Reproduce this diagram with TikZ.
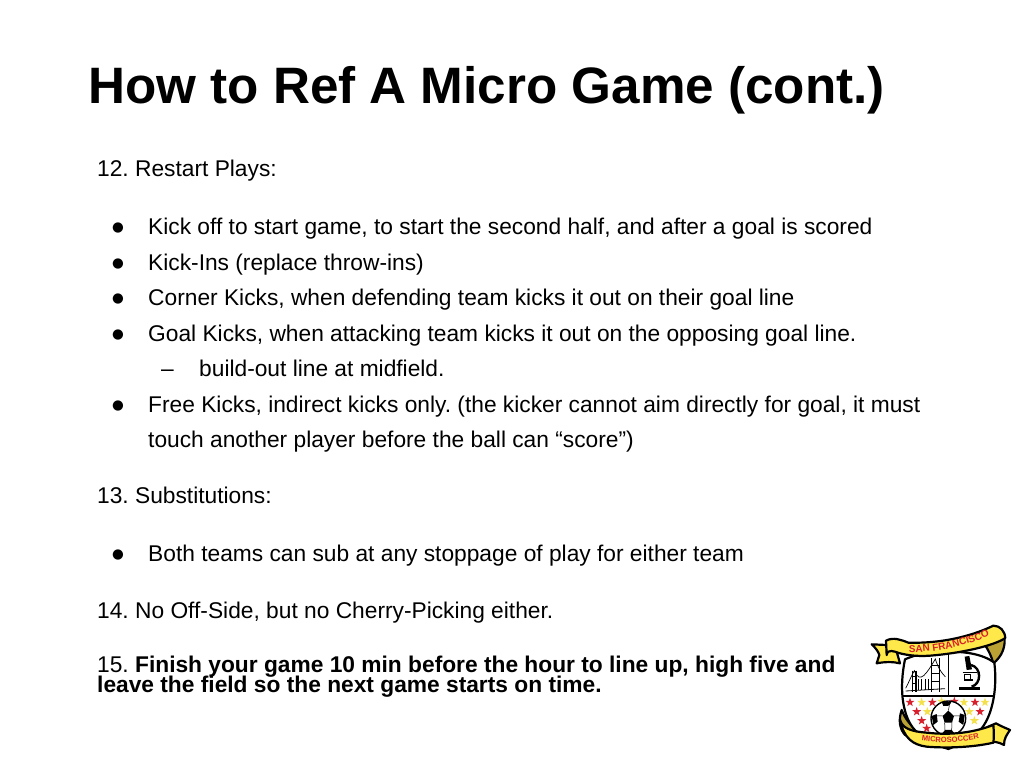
\documentclass[tikz,border=0pt]{standalone}
\usepackage{fontspec}
\setmainfont{Liberation Sans}
\newfontfamily\symfont{DejaVu Sans}
\usetikzlibrary{decorations.text}
\tikzset{
  titletext/.style={anchor=base west,inner sep=0pt,font=\fontsize{51.2}{51.2}\selectfont\bfseries},
  bodytext/.style={anchor=base west,inner sep=0pt,font=\fontsize{22.75}{22.75}\selectfont},
  bulletmark/.style={anchor=base,inner sep=0pt,font=\fontsize{13.5}{13.5}\selectfont\symfont},
  logoline/.style={draw=black,line width=2.2pt,line join=round},
  bannerfill/.style={logoline,fill=bannergold},
  bannerfold/.style={logoline,fill=foldgold},
}
\definecolor{bannergold}{HTML}{FFE84A}
\definecolor{foldgold}{HTML}{B9A233}
\definecolor{starred}{HTML}{D8202C}
\definecolor{staryellow}{HTML}{F3E04A}
\newcommand{\logostar}[3]{\fill[#3] (#1,#2) +(-90:14) -- +(-54:5.6) -- +(-18:14) -- +(18:5.6) -- +(54:14) -- +(90:5.6) -- +(126:14) -- +(162:5.6) -- +(198:14) -- +(234:5.6) -- cycle;}
\frenchspacing
\begin{document}
\begin{tikzpicture}[x=1pt,y=-1pt]
\useasboundingbox (0,0) rectangle (1024,768);
\fill[white] (0,0) rectangle (1024,768);
\node[titletext] (title) at (88,103) {How to Ref A Micro Game (cont.)};
\node[bodytext] (t12) at (97,176) {12. Restart Plays:};
\node[bulletmark] (b1) at (118,231.5) {●};
\node[bodytext] (l1) at (148,234) {Kick off to start game, to start the second half, and after a goal is scored};
\node[bulletmark] (b2) at (118,267) {●};
\node[bodytext] (l2) at (148,270) {Kick-Ins (replace throw-ins)};
\node[bulletmark] (b3) at (118,302.5) {●};
\node[bodytext] (l3) at (148,305) {Corner Kicks, when defending team kicks it out on their goal line};
\node[bulletmark] (b4) at (118,338) {●};
\node[bodytext] (l4) at (148,341) {Goal Kicks, when attacking team kicks it out on the opposing goal line.};
\node[bodytext] (d1) at (161,376) {–};
\node[bodytext] (l5) at (199,376) {build-out line at midfield.};
\node[bulletmark] (b5) at (118,409) {●};
\node[bodytext] (l6) at (148,412) {Free Kicks, indirect kicks only. (the kicker cannot aim directly for goal, it must};
\node[bodytext] (l7) at (148,447) {touch another player before the ball can “score”)};
\node[bodytext] (t13) at (97,503) {13. Substitutions:};
\node[bulletmark] (b6) at (118,558) {●};
\node[bodytext] (l8) at (148,561) {Both teams can sub at any stoppage of play for either team};
\node[bodytext] (t14) at (97,618) {14. No Off-Side, but no Cherry-Picking either.};
\node[bodytext] (t15) at (97,672) {15. \textbf{Finish your game 10 min before the hour to line up, high five and}};
\node[bodytext] (t15b) at (97,692) {\textbf{leave the field so the next game starts on time.}};
% logo, in zoom coordinates
\begin{scope}[shift={(860,610)},x=0.3333pt,y=-0.3333pt]
  % back folds
  \path[bannerfold] (375,105) .. controls (400,95) and (425,85) .. (432,70) .. controls (440,110) and (425,140) .. (400,160) .. controls (395,140) and (385,120) .. (375,105) -- cycle;
  \path[bannerfold] (125,300) .. controls (115,330) and (118,355) .. (135,375) -- (175,365) .. controls (150,345) and (135,325) .. (125,300) -- cycle;
  % shield
  \path[logoline,fill=white] (135,148) .. controls (180,128) and (225,125) .. (265,125) .. controls (310,125) and (365,130) .. (403,158) .. controls (412,230) and (400,310) .. (365,355) .. controls (335,390) and (295,405) .. (265,417) .. controls (225,405) and (185,385) .. (160,355) .. controls (125,310) and (118,230) .. (135,148) -- cycle;
  \draw[black,line width=1.6pt] (265,128) -- (265,258) (127,258) -- (404,258);
  % bridge
  \draw[black,line width=.8pt] (137,243) -- (255,236);
  \draw[black,line width=1.2pt] (158,182) -- (158,247) (168,182) -- (168,247) (215,145) -- (215,247) (238,145) -- (238,247);
  \draw[black,line width=.7pt] (215,165) -- (238,165) (215,190) -- (238,190) (215,215) -- (238,215) (158,200) -- (168,200) (158,220) -- (168,220);
  \draw[black,line width=.7pt] (137,235) .. controls (145,220) and (155,195) .. (163,182) .. controls (180,225) and (200,190) .. (226,147) .. controls (235,175) and (245,190) .. (256,200);
  \foreach \i in {175,185,...,205}{\draw[black,line width=.4pt] (\i,208) -- (\i,240);}
  % microscope
  \fill[black] (314,140) -- (328,138) -- (336,178) -- (320,180) -- cycle;
  \draw[black,line width=2.4pt] (333,165) .. controls (365,172) and (365,222) .. (335,230);
  \draw[black,line width=1.4pt] (308,188) -- (350,188) (312,210) -- (338,210);
  \draw[black,line width=.6pt,fill=white] (313,194) rectangle (330,208);
  \fill[black] (298,232) -- (360,232) -- (360,241) -- (298,241) -- cycle;
  % stars
  \logostar{150}{277}{starred}\logostar{185}{277}{staryellow}\logostar{217}{277}{starred}\logostar{245}{274}{staryellow}
  \logostar{283}{274}{starred}\logostar{312}{277}{staryellow}\logostar{345}{277}{starred}\logostar{375}{277}{staryellow}
  \logostar{170}{305}{starred}\logostar{202}{305}{staryellow}\logostar{328}{305}{staryellow}\logostar{360}{305}{starred}
  \logostar{185}{332}{starred}\logostar{343}{332}{staryellow}\logostar{200}{355}{starred}
  % ball
  \path[draw=black,line width=1.4pt,fill=white] (265,325) circle[radius=52];
  \fill[black] (265,302) -- (248,318) -- (254,338) -- (276,338) -- (282,318) -- cycle;
  \fill[black] (245,276) -- (275,274) -- (268,287) -- (250,288) -- cycle;
  \fill[black] (215,318) -- (230,312) -- (233,335) -- (220,345) -- cycle;
  \fill[black] (314,315) -- (300,310) -- (296,335) -- (310,345) -- cycle;
  \fill[black] (245,372) -- (255,360) -- (275,360) -- (285,372) -- cycle;
  \draw[black,line width=.5pt] (265,302) -- (268,287) (248,318) -- (230,318) (282,318) -- (300,318) (254,338) -- (255,360) (276,338) -- (275,360);
  % top banner
  \path[bannerfill] (80,105) -- (35,103) .. controls (48,115) and (55,125) .. (58,135) -- (50,160) .. controls (75,155) and (100,155) .. (120,160) -- (110,125) -- cycle;
  \path[bannerfill] (78,92) .. controls (100,80) and (125,90) .. (145,98) .. controls (215,100) and (310,90) .. (400,47) .. controls (420,47) and (434,62) .. (436,84) .. controls (400,108) and (300,130) .. (210,137) .. controls (170,140) and (130,135) .. (105,125) .. controls (90,120) and (80,125) .. (80,135) -- cycle;
  \path[decorate,decoration={text along path,text align=center,text color=starred,
      text={|\fontsize{10}{10}\selectfont\bfseries|SAN FRANCISCO}}]
      (143,126) .. controls (220,130) and (320,110) .. (393,74);
  % bottom banner
  \path[bannerfill] (385,350) -- (408,340) .. controls (425,350) and (440,355) .. (450,360) .. controls (440,375) and (432,385) .. (432,405) .. controls (415,395) and (400,395) .. (385,395) -- cycle;
  \path[bannerfill] (120,328) .. controls (125,355) and (155,365) .. (200,368) .. controls (260,375) and (330,372) .. (400,345) .. controls (402,365) and (402,385) .. (400,398) .. controls (340,412) and (260,415) .. (200,410) .. controls (160,405) and (130,385) .. (120,328) -- cycle;
  \path[decorate,decoration={text along path,text align=center,text color=starred,
      text={|\fontsize{7.6}{7.6}\selectfont\bfseries|MICROSOCCER}}]
      (170,390) .. controls (230,402) and (310,400) .. (372,382);
\end{scope}
\end{tikzpicture}
\end{document}
